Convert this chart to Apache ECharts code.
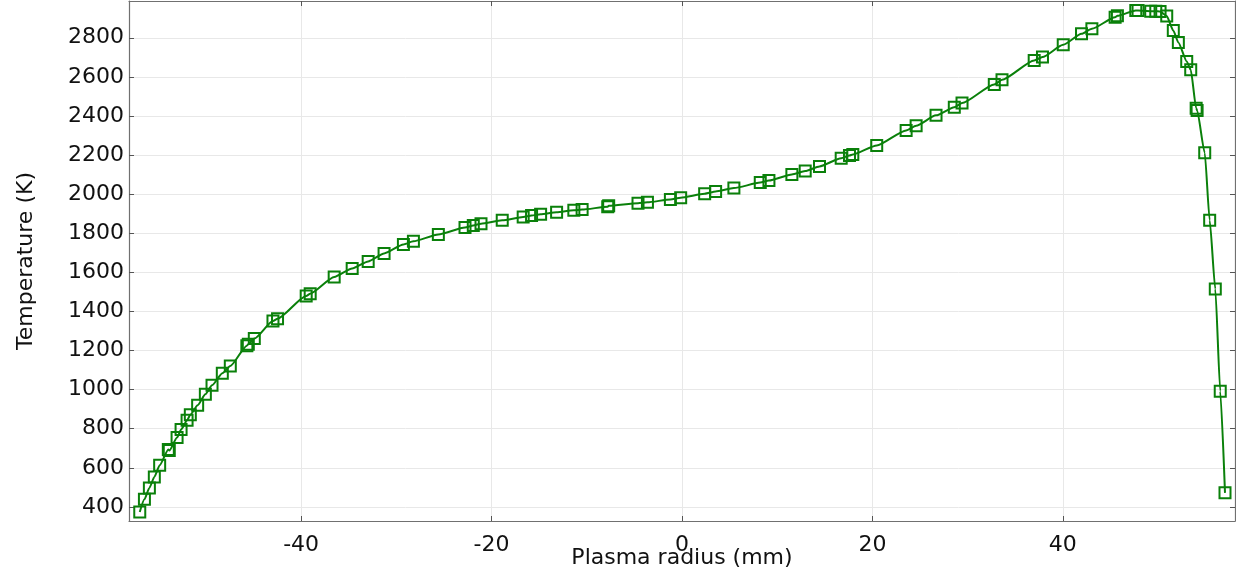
<!DOCTYPE html>
<html>
<head>
<meta charset="utf-8">
<script src="https://cdn.jsdelivr.net/npm/echarts@6/dist/echarts.min.js"></script>
<style>
  html, body { margin: 0; background: #fff; }
  #chart { width: 1236px; height: 573px; }
</style>
</head>
<body>
<div id="chart"></div>
<script>
// plasma radius (mm) at each marker
const radius = [
  -56.95, -56.46, -55.94, -55.42, -54.86, -53.95, -53.85, -53.03, -52.61, -51.98,
  -51.64, -50.87, -50.06, -49.36, -48.28, -47.44, -45.7, -45.55, -44.92, -42.96,
  -42.48, -39.47, -39.05, -36.53, -34.64, -32.96, -31.29, -29.26, -28.21, -25.59,
  -22.79, -21.92, -21.11, -18.88, -16.68, -15.8, -14.85, -13.17, -11.36, -10.49,
  -7.8, -7.7, -4.62, -3.63, -1.22, -0.14, 2.38, 3.53, 5.45, 8.22,
  9.13, 11.54, 12.94, 14.44, 16.72, 17.59, 17.94, 20.45, 23.54, 24.59,
  26.68, 28.6, 29.41, 32.8, 33.61, 36.99, 37.86, 40.04, 41.96, 43.05,
  45.49, 45.73, 47.66, 47.9, 49.23, 49.76, 50.21, 50.91, 51.6, 52.13,
  53.01, 53.43, 54.0, 54.1, 54.9, 55.42, 56.01, 56.53, 57.03
];
// temperature (K) at each marker
const temperature = [
  374, 439, 497, 553, 613, 694, 688, 755, 796, 843,
  872, 920, 976, 1022, 1084, 1121, 1225, 1232, 1261, 1351,
  1363, 1479, 1491, 1576, 1620, 1656, 1697, 1743, 1759, 1794,
  1829, 1840, 1849, 1866, 1883, 1891, 1897, 1907, 1917, 1921,
  1936, 1940, 1954, 1958, 1973, 1982, 2002, 2014, 2031, 2059,
  2070, 2101, 2118, 2142, 2184, 2198, 2203, 2249, 2326, 2350,
  2403, 2445, 2466, 2561, 2585, 2684, 2701, 2764, 2820, 2846,
  2905, 2912, 2940, 2940, 2936, 2936, 2934, 2911, 2837, 2776,
  2679, 2636, 2440, 2428, 2212, 1866, 1515, 992, 472
];
const xTicks = [-40, -20, 0, 20, 40];
const yTicks = [400, 600, 800, 1000, 1200, 1400, 1600, 1800, 2000, 2200, 2400, 2600, 2800];

const xMin = -58.08, xMax = 58.08;
const yMin = 328, yMax = 2988;
const green = "#0a800a";
const textColor = "#111";
const font = "DejaVu Sans";

const chart = echarts.init(document.querySelector("#chart"));

function frameAxis(base, show) {
  return Object.assign({
    type: "value",
    axisLine: { show: true, onZero: false, lineStyle: { color: "#707070", width: 1.2 } },
    axisTick: { show: true, inside: true, length: 5, lineStyle: { color: "#555" } },
    splitLine: { show: false },
    axisLabel: { show: false },
  }, base, show);
}

chart.setOption({
  animation: false,
  backgroundColor: "#fff",
  grid: { left: 129, right: 1, top: 1, bottom: 52, outerBoundsMode: "none", containLabel: false },
  xAxis: [
    frameAxis({ min: xMin, max: xMax, position: "bottom" }, {
      name: "Plasma radius (mm)",
      nameLocation: "middle",
      nameGap: 26,
      nameMoveOverlap: false,
      nameTextStyle: { fontFamily: font, fontSize: 22, color: textColor },
      axisTick: { show: true, inside: true, length: 5, customValues: xTicks, lineStyle: { color: "#555" } },
      axisLabel: { show: true, customValues: xTicks, margin: 13, fontFamily: font, fontSize: 22, color: textColor,
        formatter: (v) => String(v) },
      splitLine: { show: true, lineStyle: { color: "#e8e8e8", width: 1 } },
    }),
    frameAxis({ min: xMin, max: xMax, position: "top" }, {
      axisTick: { show: true, inside: true, length: 5, customValues: xTicks, lineStyle: { color: "#555" } },
    }),
  ],
  yAxis: [
    frameAxis({ min: yMin, max: yMax, position: "left" }, {
      name: "Temperature (K)",
      nameLocation: "middle",
      nameGap: 92,
      nameMoveOverlap: false,
      nameTextStyle: { fontFamily: font, fontSize: 22, color: textColor },
      axisTick: { show: true, inside: true, length: 5, customValues: yTicks, lineStyle: { color: "#555" } },
      axisLabel: { show: true, customValues: yTicks, margin: 5, fontFamily: font, fontSize: 22, color: textColor,
        formatter: (v) => String(v) },
      splitLine: { show: true, lineStyle: { color: "#e8e8e8", width: 1 } },
    }),
    frameAxis({ min: yMin, max: yMax, position: "right" }, {
      axisTick: { show: true, inside: true, length: 5, customValues: yTicks, lineStyle: { color: "#555" } },
    }),
  ],
  series: [
    {
      type: "line",
      xAxisIndex: 0,
      yAxisIndex: 0,
      data: radius.map((r, i) => [r, temperature[i]]),
      smooth: 0.2,
      smoothMonotone: "x",
      symbol: "rect",
      symbolSize: 11,
      showAllSymbol: true,
      lineStyle: { color: green, width: 2 },
      itemStyle: { color: "rgba(0,0,0,0)", borderColor: green, borderWidth: 2 },
      emphasis: { disabled: true },
    },
  ],
});
</script>
</body>
</html>
